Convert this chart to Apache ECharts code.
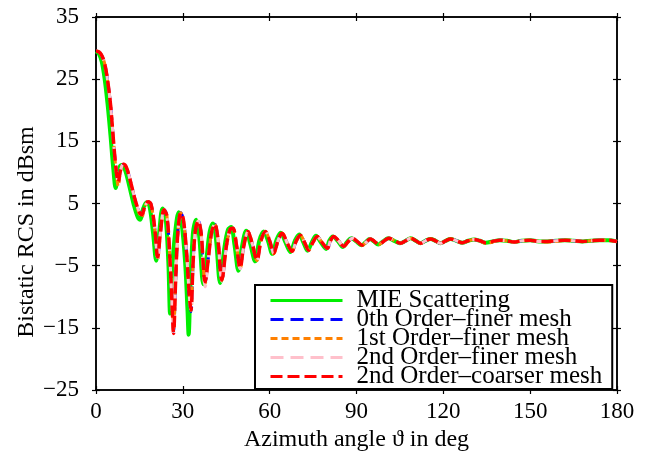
<!DOCTYPE html>
<html>
<head>
<meta charset="utf-8">
<script src="https://cdn.jsdelivr.net/npm/echarts@6/dist/echarts.min.js"></script>
<style>html,body{margin:0;padding:0;background:#fff}#c{width:650px;height:462px}</style>
</head>
<body>
<div id="c"></div>
<script>
// ---- data ----
const xTicks = [0, 30, 60, 90, 120, 150, 180];
const yTicks = [-25, -15, -5, 5, 15, 25, 35];
const seriesNames = ['MIE Scattering', '0th Order\u2013finer mesh', '1st Order\u2013finer mesh', '2nd Order\u2013finer mesh', '2nd Order\u2013coarser mesh'];

// angles for the MIE reference curve
const thetaMie = [0,1,2,3,4,5,6,6.8,7.8,8.8,10,11.5,13,14.5,15.3,16.3,17.5,18.5,19.7,20.8,21.8,23,24,25,25.6,26.3,27.5,28.6,29.6,30.8,31.6,32,32.6,33.5,34.6,35.6,37.1,38.3,39.3,40.4,41.4,42.9,44.3,45.6,46.7,47.8,49.2,50.4,51.9,53.3,55,56.4,57.9,59.4,60.9,62.4,63.8,65.5,67.2,68.7,70.2,71.6,73.1,74.6,76,77.6,79.5,80.6,81.8,83.5,85.3,86.7,88.2,89.9,91.7,93.2,94.6,96,97.5,99.1,101,103,105,107,108.7,110.5,112.1,113.8,115.6,117.3,119,120.8,122.5,124.5,126.6,128.6,130.6,132.6,134.6,137,139.5,142,144.5,147,150,153,156,159,162,165,168,171,174,177,180];
const rcsMie = [29.5,29.1,27.8,25.0,21.0,16.0,10.5,7.5,10.4,11.2,10.4,7.8,4.9,2.7,2.4,4.2,5.2,4.5,0.3,-4.2,0.2,4.2,3.0,-4.5,-12.7,-5.5,1.0,3.6,1.8,-4.5,-12.0,-16.1,-8.5,0.3,2.4,0.0,-8.0,-3.3,0.5,1.8,-0.5,-7.8,-2.3,0.8,1.2,-1.5,-5.8,-2.0,0.6,-1.5,-4.3,-1.0,0.5,-1.0,-3.1,-0.8,0.3,-1.3,-2.8,-1.0,0.0,-1.2,-2.6,-1.2,-0.2,-1.2,-2.3,-1.0,-0.3,-1.0,-2.0,-1.2,-0.6,-1.1,-1.7,-1.2,-0.7,-1.1,-1.6,-1.1,-0.6,-1.0,-1.4,-1.0,-0.6,-1.0,-1.4,-1.0,-0.7,-1.0,-1.4,-1.0,-0.7,-1.0,-1.3,-1.0,-0.8,-1.0,-1.3,-1.1,-0.9,-1.0,-1.2,-1.0,-0.9,-1.1,-1.1,-1.0,-0.9,-1.0,-1.1,-1.0,-0.9,-0.9,-1.1];

// angles for the numerical solutions
const theta = [0,1,2,3,4,5,6,7,7.7,8.5,9.5,10.5,12,13.5,15,15.8,16.8,18,19,20.3,21.3,22.3,23.5,24.5,25.5,26.3,26.8,27.5,28.3,29.3,30.2,31.3,32.2,32.8,33.5,34.3,35.3,36.3,37.7,39,40,41,42,43.5,45,46.3,47.3,48.5,49.8,51,52.5,54,55.6,57,58.5,60,61.4,63,64.3,66,67.7,69.2,70.6,72,73.5,75,76.4,78,79.9,81,82.1,83.8,85.6,87,88.5,90.2,92,93.4,94.8,96.2,97.7,99.3,101.2,103.2,105.2,107,108.7,110.5,112.1,113.8,115.6,117.3,119,120.8,122.5,124.5,126.6,128.6,130.6,132.6,134.6,137,139.5,142,144.5,147,150,153,156,159,162,165,168,171,174,177,180];
const rcsOrder0 = [29.5,29.4,28.8,27.5,24.8,21.0,15.3,10.2,8.6,10.4,11.3,10.8,8.4,5.6,3.6,3.2,4.4,5.3,4.9,1.0,-3.6,0.5,4.0,3.0,-3.5,-11.3,-15.5,-7.5,0.5,3.5,2.4,-3.0,-9.8,-12.4,-5.0,0.5,2.2,0.3,-7.6,-3.0,0.5,1.7,-0.2,-7.3,-2.0,0.8,1.0,-1.6,-5.4,-2.0,0.5,-1.5,-4.1,-1.0,0.5,-1.0,-3.0,-0.8,0.2,-1.3,-2.7,-1.0,-0.1,-1.2,-2.5,-1.2,-0.3,-1.2,-2.2,-1.0,-0.3,-1.0,-1.9,-1.2,-0.6,-1.1,-1.7,-1.2,-0.7,-1.1,-1.6,-1.1,-0.6,-1.0,-1.4,-1.0,-0.6,-1.0,-1.4,-1.0,-0.7,-1.0,-1.4,-1.0,-0.7,-1.0,-1.3,-1.0,-0.8,-1.0,-1.3,-1.1,-0.9,-1.0,-1.2,-1.0,-0.9,-1.1,-1.1,-1.0,-0.9,-1.0,-1.1,-1.0,-0.9,-0.9,-1.1];
const rcsOrder1 = [29.5,29.4,28.8,27.5,24.8,21.0,15.3,10.0,7.8,10.3,11.3,10.8,8.4,5.5,3.3,2.8,4.3,5.3,4.9,0.8,-4.0,0.4,4.0,3.0,-3.6,-11.5,-15.6,-7.6,0.5,3.5,2.4,-3.1,-9.6,-12.2,-5.0,0.5,2.2,0.2,-7.9,-3.0,0.5,1.7,-0.3,-7.4,-2.0,0.8,1.0,-1.6,-5.5,-2.0,0.5,-1.5,-4.2,-1.0,0.5,-1.0,-3.1,-0.8,0.2,-1.3,-2.7,-1.0,-0.1,-1.2,-2.5,-1.2,-0.3,-1.2,-2.2,-1.0,-0.3,-1.0,-1.9,-1.2,-0.6,-1.1,-1.7,-1.2,-0.7,-1.1,-1.6,-1.1,-0.6,-1.0,-1.4,-1.0,-0.6,-1.0,-1.4,-1.0,-0.7,-1.0,-1.4,-1.0,-0.7,-1.0,-1.3,-1.0,-0.8,-1.0,-1.4,-1.2,-0.9,-1.0,-1.2,-1.0,-0.9,-1.1,-1.2,-1.1,-0.9,-1.0,-1.1,-1.0,-0.9,-0.9,-1.1];
const rcsOrder2 = [29.5,29.4,28.8,27.5,24.8,21.0,15.3,10.2,8.5,10.4,11.4,10.9,8.4,5.6,3.6,3.2,4.4,5.3,4.9,1.0,-3.7,0.5,4.0,3.0,-3.5,-11.6,-15.8,-7.6,0.5,3.5,2.4,-3.0,-9.6,-12.2,-5.0,0.5,2.2,0.2,-8.4,-3.1,0.5,1.7,-0.3,-7.6,-2.1,0.8,1.0,-1.6,-5.5,-2.0,0.5,-1.5,-4.1,-1.0,0.5,-1.0,-3.0,-0.8,0.2,-1.3,-2.7,-1.0,-0.1,-1.2,-2.5,-1.2,-0.3,-1.2,-2.2,-1.0,-0.3,-1.0,-1.9,-1.2,-0.6,-1.1,-1.7,-1.2,-0.7,-1.1,-1.6,-1.1,-0.6,-1.0,-1.4,-1.0,-0.6,-1.0,-1.4,-1.0,-0.7,-1.0,-1.4,-1.0,-0.7,-1.0,-1.3,-1.0,-0.8,-1.0,-1.3,-1.1,-0.9,-1.0,-1.2,-1.0,-0.9,-1.1,-1.1,-1.0,-0.9,-1.0,-1.1,-1.0,-0.9,-0.9,-1.1];
const rcsOrder2Coarse = [29.5,29.4,28.8,27.5,24.8,21.0,15.3,10.2,8.5,10.4,11.3,10.8,8.4,5.6,3.6,3.2,4.4,5.3,4.9,1.0,-3.6,0.5,4.0,3.0,-3.5,-11.5,-15.9,-7.5,0.5,3.5,2.4,-3.0,-9.5,-12.1,-5.0,0.5,2.2,0.3,-7.6,-3.0,0.5,1.7,-0.2,-7.3,-2.0,0.8,1.0,-1.6,-5.4,-2.0,0.5,-1.5,-4.1,-1.0,0.5,-1.0,-3.0,-0.8,0.2,-1.3,-2.7,-1.0,-0.1,-1.2,-2.5,-1.2,-0.3,-1.2,-2.2,-1.0,-0.3,-1.0,-1.9,-1.2,-0.6,-1.1,-1.7,-1.2,-0.7,-1.1,-1.6,-1.1,-0.6,-1.0,-1.4,-1.0,-0.6,-1.0,-1.4,-1.0,-0.7,-1.0,-1.4,-1.0,-0.7,-1.0,-1.3,-1.0,-0.8,-1.0,-1.3,-1.1,-0.9,-1.0,-1.2,-1.0,-0.9,-1.1,-1.1,-1.0,-0.9,-1.0,-1.1,-1.0,-0.9,-0.9,-1.1];

// ---- chart ----
const FONT = '"Liberation Serif", "Times New Roman", serif';
const pair = (xs, ys) => xs.map((x, i) => [x, ys[i]]);
const minusFmt = v => String(v).replace('-', '\u2212');

function xAx(pos, inside, labels, extra) {
  return Object.assign({
    type: 'value', min: 0, max: 180, interval: 30, position: pos,
    axisLine: { show: true, onZero: false, lineStyle: { color: '#000', width: 1.5 } },
    axisTick: { show: true, inside: inside, length: 4, lineStyle: { color: '#000', width: 1.2 } },
    axisLabel: { show: labels, color: '#000', fontFamily: FONT, fontSize: 23, margin: 10 },
    splitLine: { show: false }
  }, extra || {});
}
function yAx(pos, inside, labels) {
  return {
    type: 'value', min: -25, max: 35, position: pos,
    axisLine: { show: true, onZero: false, lineStyle: { color: '#000', width: 1.5 } },
    axisTick: { show: true, inside: inside, length: 4, customValues: yTicks, lineStyle: { color: '#000', width: 1.2 } },
    axisLabel: { show: labels, customValues: yTicks, formatter: minusFmt, color: '#000', fontFamily: FONT, fontSize: 23, margin: 17 },
    splitLine: { show: false }
  };
}

const chart = echarts.init(document.getElementById('c'), null, { renderer: 'canvas' });
const lineStyles = [
  { color: '#00ee00', width: 4, type: 'solid' },
  { color: '#0000ff', width: 3, type: [13, 7] },
  { color: '#ff8000', width: 3, type: [7, 4] },
  { color: '#ffc0cb', width: 3, type: [13, 7] },
  { color: '#ff0000', width: 3.5, type: [12, 5] }
];
const datas = [
  pair(thetaMie, rcsMie),
  pair(theta, rcsOrder0),
  pair(theta, rcsOrder1),
  pair(theta, rcsOrder2),
  pair(theta, rcsOrder2Coarse)
];

chart.setOption({
  animation: false,
  backgroundColor: '#fff',
  grid: { left: 96, right: 33, top: 17, bottom: 72, containLabel: false },
  xAxis: [
    xAx('bottom', true, true, { name: 'Azimuth angle \u03D1 in deg', nameLocation: 'middle', nameGap: 38, nameTextStyle: { color: '#000', fontFamily: FONT, fontSize: 24 } }),
    xAx('bottom', false, false),
    xAx('top', true, false),
    xAx('top', false, false)
  ],
  yAxis: [
    yAx('left', true, true),
    yAx('left', false, false),
    yAx('right', true, false),
    yAx('right', false, false)
  ],
  legend: {
    orient: 'vertical', left: 255, top: 285,
    padding: [3, 10, 0, 14],
    borderColor: '#000', borderWidth: 2, backgroundColor: '#fff',
    itemWidth: 72, itemHeight: 10, itemGap: -6,
    textStyle: { color: '#000', fontFamily: FONT, fontSize: 25, padding: [0, 0, 0, 9] },
    itemStyle: { opacity: 0 },
    lineStyle: { width: 3 },
    data: seriesNames
  },
  graphic: [{
    type: 'text', x: 27, y: 232, rotation: Math.PI / 2,
    style: { text: 'Bistatic RCS in dBsm', fill: '#000', font: '24px ' + FONT, align: 'center', verticalAlign: 'middle' }
  }],
  series: seriesNames.map((n, i) => ({
    name: n, type: 'line', xAxisIndex: 0, yAxisIndex: 0,
    data: datas[i], showSymbol: false, symbol: 'none', smooth: 0.35,
    itemStyle: { color: lineStyles[i].color },
    lineStyle: lineStyles[i], z: 2 + i
  }))
});
</script>
</body>
</html>
